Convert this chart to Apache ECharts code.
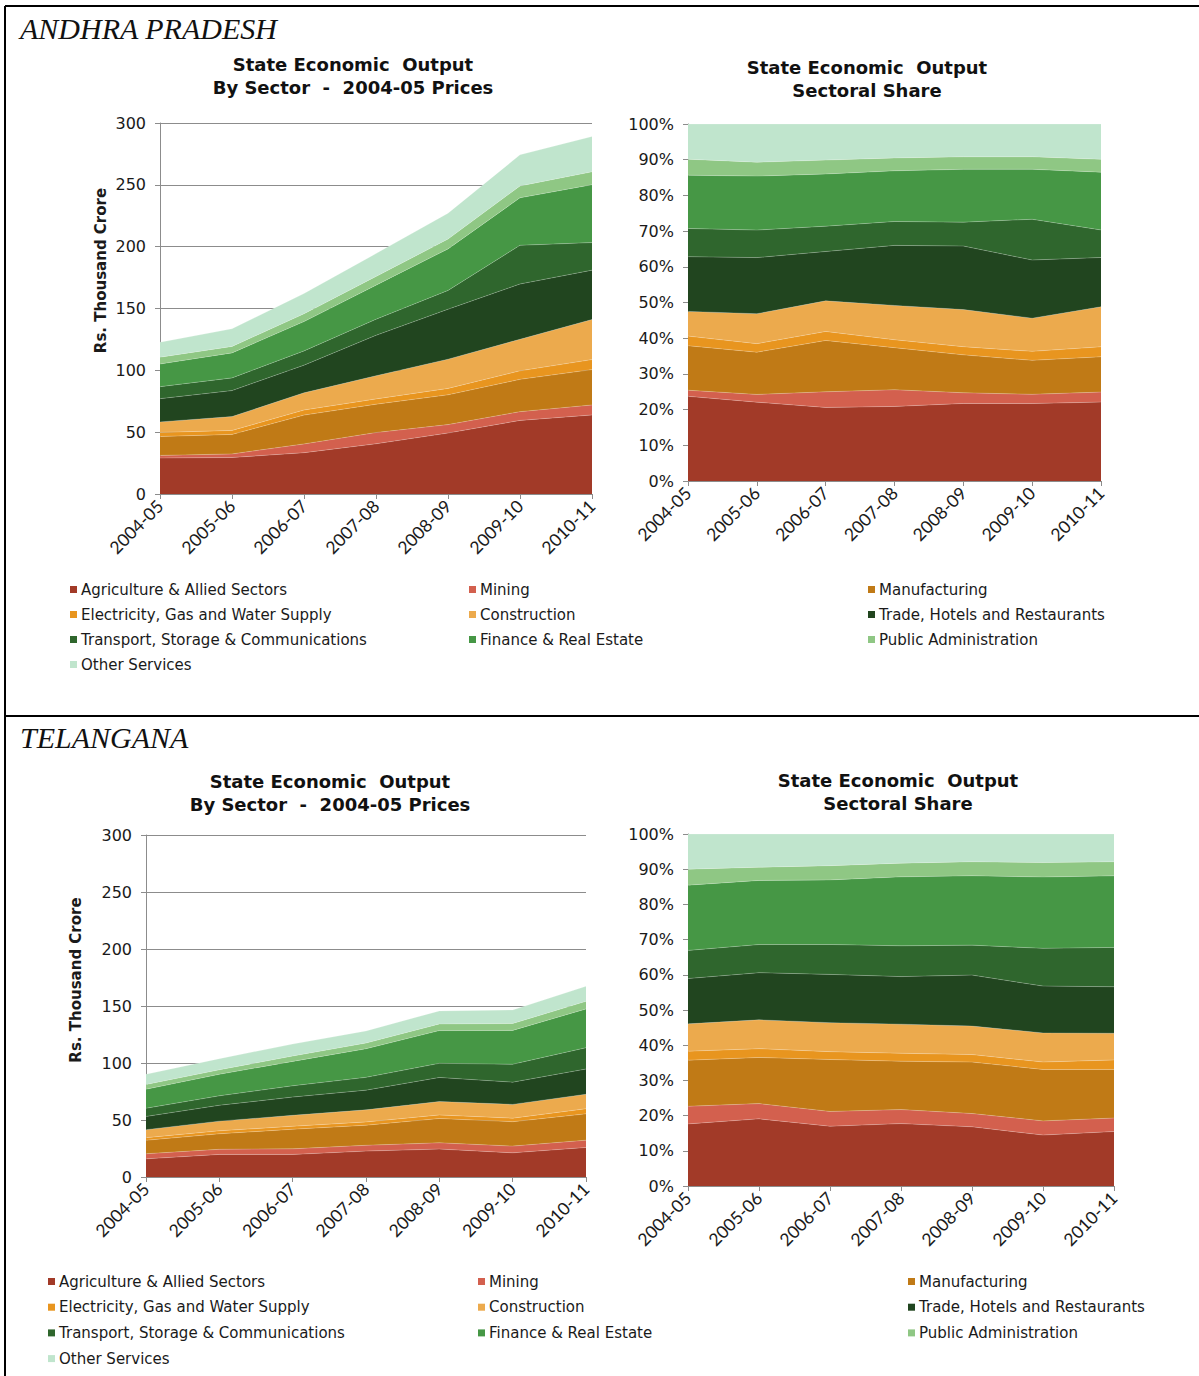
<!DOCTYPE html>
<html><head><meta charset="utf-8">
<script src="https://cdn.jsdelivr.net/npm/echarts@6/dist/echarts.min.js"></script>
<style>html,body{margin:0;padding:0;background:#fff}#c{width:1199px;height:1376px}</style>
</head><body><div id="c"></div>
<script>
const years = ['2004-05','2005-06','2006-07','2007-08','2008-09','2009-10','2010-11'];
const sectorNames = ['Agriculture & Allied Sectors','Mining','Manufacturing','Electricity, Gas and Water Supply','Construction','Trade, Hotels and Restaurants','Transport, Storage & Communications','Finance & Real Estate','Public Administration','Other Services'];
const sectorColors = ['#a23a28','#d3604e','#c07a16','#e8951f','#ecaa4d','#21451f','#2f662d','#469745','#8fc784','#c0e5cd'];
const valueTicks = [0,50,100,150,200,250,300];
const shareTicks = [0,10,20,30,40,50,60,70,80,90,100];

// Andhra Pradesh, Rs. thousand crore (2004-05 prices)
const apAgriculture   = [29.1, 29.5, 33.4, 40.6, 49.3, 59.5, 63.9];
const apMining        = [2.1, 2.9, 7.1, 9.1, 6.8, 7.1, 8.1];
const apManufacturing = [15.3, 15.8, 23.3, 22.9, 24.1, 26.1, 28.6];
const apElectricity   = [3.3, 3.2, 4.1, 4.3, 5.2, 6.9, 8.1];
const apConstruction  = [8.5, 11.2, 13.9, 18.7, 23.6, 25.5, 32.4];
const apTrade         = [18.8, 21.0, 22.4, 32.7, 40.4, 44.7, 39.9];
const apTransport     = [9.7, 10.3, 11.5, 13.0, 15.2, 31.3, 22.3];
const apFinance       = [18.3, 20.2, 23.7, 27.6, 33.6, 38.4, 46.8];
const apPublicAdmin   = [5.5, 5.2, 6.3, 7.0, 7.9, 9.6, 10.4];
const apOther         = [12.1, 14.3, 16.4, 18.5, 20.9, 25.2, 28.6];

// Telangana, Rs. thousand crore (2004-05 prices)
const tgAgriculture   = [15.9, 19.8, 19.8, 22.7, 24.5, 21.2, 25.9];
const tgMining        = [4.5, 4.5, 4.9, 5.1, 5.5, 5.9, 6.4];
const tgManufacturing = [11.8, 13.6, 17.2, 17.6, 21.3, 21.4, 23.1];
const tgElectricity   = [2.3, 2.6, 2.6, 2.9, 3.1, 3.1, 4.5];
const tgConstruction  = [7.0, 8.5, 9.6, 10.6, 11.8, 12.1, 12.7];
const tgTrade         = [11.6, 13.9, 16.0, 17.3, 21.1, 19.5, 22.1];
const tgTransport     = [7.2, 8.3, 9.9, 11.2, 12.4, 15.7, 18.7];
const tgFinance       = [16.7, 18.9, 21.4, 25.1, 28.7, 29.7, 34.0];
const tgPublicAdmin   = [4.1, 3.9, 4.7, 5.0, 5.8, 6.0, 6.7];
const tgOther         = [9.0, 9.8, 10.5, 10.6, 11.5, 11.9, 13.2];

const apData = [apAgriculture, apMining, apManufacturing, apElectricity, apConstruction, apTrade, apTransport, apFinance, apPublicAdmin, apOther];
const tgData = [tgAgriculture, tgMining, tgManufacturing, tgElectricity, tgConstruction, tgTrade, tgTransport, tgFinance, tgPublicAdmin, tgOther];

function toShares(data){
  const totals = years.map((_, i) => data.reduce((s, arr) => s + arr[i], 0));
  return data.map(arr => arr.map((v, i) => +(v / totals[i] * 100).toFixed(3)));
}

const FONT = 'DejaVu Sans';
const grids = [
  {left:160, top:123, width:432, height:371},
  {left:688, top:124, width:413, height:357},
  {left:146, top:835, width:440, height:342},
  {left:688, top:834, width:426, height:352}
];

const xAxes = grids.map((g, i) => ({
  type:'category', gridIndex:i, data:years, boundaryGap:false,
  axisLine:{show:true, lineStyle:{color:'#8c8c8c', width:1}},
  axisTick:{show:true, alignWithLabel:true, length:5, lineStyle:{color:'#8c8c8c'}},
  axisLabel:{rotate:45, margin:9, fontFamily:'Lato', fontSize:17.5, color:'#1a1a1a', interval:0},
  splitLine:{show:false}
}));

const yAxes = grids.map((g, i) => {
  const isShare = i % 2 === 1;
  const ticks = isShare ? shareTicks : valueTicks;
  const ax = {
    type:'value', gridIndex:i, min:ticks[0], max:ticks[ticks.length-1], interval:ticks[1]-ticks[0],
    axisLine:{show:true, lineStyle:{color:'#8c8c8c', width:1}},
    axisTick:{show:true, length:5, lineStyle:{color:'#8c8c8c'}},
    axisLabel:{margin:14, fontFamily:FONT, fontSize:16, color:'#1a1a1a', formatter: isShare ? '{value}%' : '{value}'},
    splitLine:{show:!isShare, lineStyle:{color:'#8c8c8c', width:1}}
  };
  if (!isShare) {
    ax.name = 'Rs. Thousand Crore';
    ax.nameLocation = 'middle';
    ax.nameRotate = 90;
    ax.nameGap = i === 0 ? 52 : 63;
    ax.nameTextStyle = {fontFamily:FONT, fontSize:15, fontWeight:'bold', color:'#1a1a1a',
      padding: i === 0 ? [0,0,0,76] : [0,0,0,52]};
  }
  return ax;
});

const series = [];
[apData, toShares(apData), tgData, toShares(tgData)].forEach((set, gi) => {
  set.forEach((arr, si) => {
    series.push({
      name: sectorNames[si], type:'line', stack:'total'+gi,
      xAxisIndex:gi, yAxisIndex:gi, data:arr,
      showSymbol:false, symbol:'none', smooth:false,
      lineStyle:{width:0.6, color:'rgba(255,255,255,0.35)'},
      itemStyle:{color:sectorColors[si]},
      areaStyle:{color:sectorColors[si], opacity:1},
      emphasis:{disabled:true}, silent:true
    });
  });
});

function legendsFor(cols, rowTop, gap){
  const columns = [[0,3,6,9],[1,4,7],[2,5,8]];
  return columns.map((idx, c) => ({
    orient:'vertical', left:cols[c], top:rowTop, itemWidth:7, itemHeight:7, itemGap:gap,
    icon:'rect', padding:0, selectedMode:false,
    data: idx.map(k => sectorNames[k]),
    textStyle:{fontFamily:FONT, fontSize:15, color:'#1a1a1a', lineHeight:15, padding:[0,0,0,-1]}
  }));
}
const legends = [].concat(legendsFor([70,469,868], 582, 10), legendsFor([48,478,908], 1274, 10.7));

function titleLines(cx, y1, l1, l2){
  const st = {fontFamily:FONT, fontSize:18, fontWeight:'bold', fill:'#111', align:'center', verticalAlign:'middle'};
  return [
    {type:'text', x:cx, y:y1, style:Object.assign({text:l1}, st)},
    {type:'text', x:cx, y:y1+23, style:Object.assign({text:l2}, st)}
  ];
}
const lineSt = {stroke:'#000', lineWidth:2};
const graphic = [
  {type:'line', shape:{x1:5, y1:6, x2:1199, y2:6}, style:lineSt},
  {type:'line', shape:{x1:5, y1:716, x2:1199, y2:716}, style:lineSt},
  {type:'line', shape:{x1:5, y1:6, x2:5, y2:1376}, style:lineSt},
  {type:'text', x:20, y:28, style:{text:'ANDHRA PRADESH', fontFamily:'Liberation Serif', fontStyle:'italic', fontSize:30, fill:'#111', verticalAlign:'middle'}},
  {type:'text', x:20, y:737, style:{text:'TELANGANA', fontFamily:'Liberation Serif', fontStyle:'italic', fontSize:30, fill:'#111', verticalAlign:'middle'}}
].concat(
  titleLines(353, 64, 'State Economic  Output', 'By Sector  -  2004-05 Prices'),
  titleLines(867, 67, 'State Economic  Output', 'Sectoral Share'),
  titleLines(330, 781, 'State Economic  Output', 'By Sector  -  2004-05 Prices'),
  titleLines(898, 780, 'State Economic  Output', 'Sectoral Share')
);

const chart = echarts.init(document.getElementById('c'), null, {renderer:'svg'});
chart.setOption({
  animation:false,
  backgroundColor:'#fff',
  grid:grids.map(g => Object.assign({containLabel:false}, g)),
  xAxis:xAxes, yAxis:yAxes, series:series, legend:legends, graphic:graphic
});
</script></body></html>
